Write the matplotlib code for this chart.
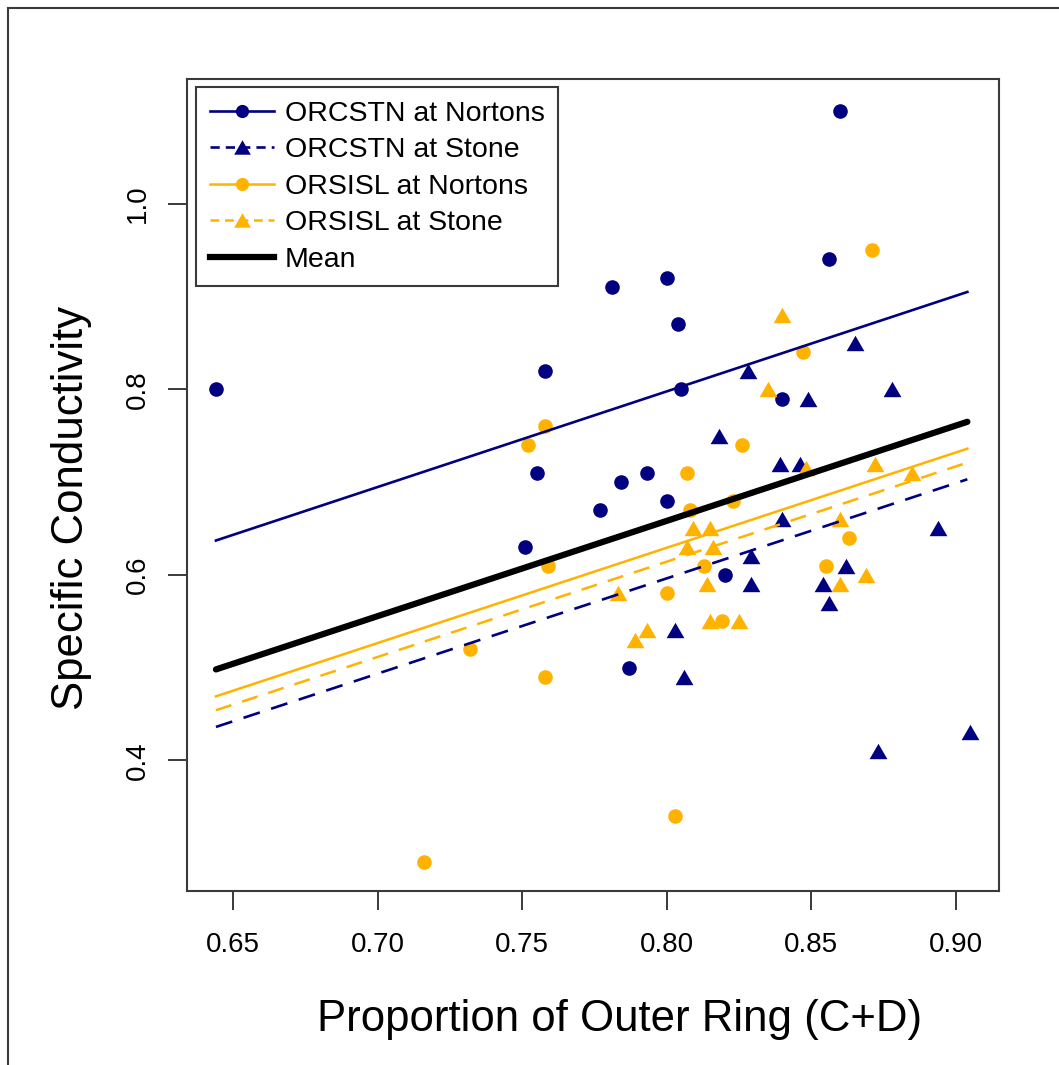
import matplotlib
matplotlib.use("Agg")
import matplotlib.pyplot as plt
from matplotlib.lines import Line2D

plt.rcParams['font.family'] = ['Liberation Sans', 'DejaVu Sans']

# colours
navy = '#000080'
gold = '#FFB300'

# ORCSTN at Nortons (circles)
orcstn_nortons_x = [0.644, 0.728, 0.751, 0.755, 0.758, 0.777, 0.781, 0.784, 0.787,
                    0.793, 0.800, 0.800, 0.804, 0.805, 0.820, 0.840, 0.856, 0.860]
orcstn_nortons_y = [0.80, 0.93, 0.63, 0.71, 0.82, 0.67, 0.91, 0.70, 0.50,
                    0.71, 0.92, 0.68, 0.87, 0.80, 0.60, 0.79, 0.94, 1.10]

# ORCSTN at Stone (triangles)
orcstn_stone_x = [0.803, 0.806, 0.818, 0.828, 0.829, 0.829, 0.839, 0.840, 0.846,
                  0.849, 0.854, 0.856, 0.862, 0.865, 0.873, 0.878, 0.894, 0.905]
orcstn_stone_y = [0.54, 0.49, 0.75, 0.82, 0.62, 0.59, 0.72, 0.66, 0.72,
                  0.79, 0.59, 0.57, 0.61, 0.85, 0.41, 0.80, 0.65, 0.43]

# ORSISL at Nortons (circles)
orsisl_nortons_x = [0.716, 0.732, 0.752, 0.758, 0.758, 0.759, 0.800, 0.803, 0.807,
                    0.808, 0.813, 0.819, 0.823, 0.826, 0.847, 0.855, 0.863, 0.871]
orsisl_nortons_y = [0.29, 0.52, 0.74, 0.76, 0.49, 0.61, 0.58, 0.34, 0.71,
                    0.67, 0.61, 0.55, 0.68, 0.74, 0.84, 0.61, 0.64, 0.95]

# ORSISL at Stone (triangles)
orsisl_stone_x = [0.783, 0.789, 0.793, 0.807, 0.809, 0.814, 0.815, 0.815, 0.816,
                  0.825, 0.835, 0.840, 0.848, 0.860, 0.860, 0.869, 0.872, 0.885]
orsisl_stone_y = [0.58, 0.53, 0.54, 0.63, 0.65, 0.59, 0.65, 0.55, 0.63,
                  0.55, 0.80, 0.88, 0.715, 0.66, 0.59, 0.60, 0.72, 0.71]

# fitted lines (values at both ends of the x range)
fit_x = [0.644, 0.904]
fit_orcstn_nortons = [0.637, 0.905]
fit_orcstn_stone = [0.436, 0.703]
fit_orsisl_nortons = [0.469, 0.736]
fit_orsisl_stone = [0.454, 0.721]
fit_mean = [0.498, 0.765]

x_ticks = [0.65, 0.70, 0.75, 0.80, 0.85, 0.90]
x_tick_labels = ['0.65', '0.70', '0.75', '0.80', '0.85', '0.90']
y_ticks = [0.4, 0.6, 0.8, 1.0]
y_tick_labels = ['0.4', '0.6', '0.8', '1.0']

legend_labels = ['ORCSTN at Nortons', 'ORCSTN at Stone', 'ORSISL at Nortons',
                 'ORSISL at Stone', 'Mean']

# equilateral triangle centred on its bounding box
tri = [(0, 1), (1.1547, -1), (-1.1547, -1), (0, 1)]

W, H = 1059, 1065
fig = plt.figure(figsize=(W / 100, H / 100), dpi=100)
ax = fig.add_axes([186.7 / W, 1 - 891 / H, 812.6 / W, 812 / H])

ms_c = 10.5
ms_t = 12.8
ax.plot(orcstn_nortons_x, orcstn_nortons_y, 'o', color=navy, ms=ms_c, mew=0, zorder=2)
ax.plot(orcstn_stone_x, orcstn_stone_y, marker=tri, ls='none', color=navy, ms=ms_t, mew=0, zorder=2)
ax.plot(orsisl_nortons_x, orsisl_nortons_y, 'o', color=gold, ms=ms_c, mew=0, zorder=2)
ax.plot(orsisl_stone_x, orsisl_stone_y, marker=tri, ls='none', color=gold, ms=ms_t, mew=0, zorder=2)

dash = (0, (6.5, 4.5))
ax.plot(fit_x, fit_orcstn_nortons, color=navy, lw=1.9, zorder=3)
ax.plot(fit_x, fit_orcstn_stone, color=navy, lw=1.9, ls=dash, zorder=3)
ax.plot(fit_x, fit_orsisl_nortons, color=gold, lw=1.8, zorder=3)
ax.plot(fit_x, fit_orsisl_stone, color=gold, lw=1.8, ls=dash, zorder=3)
ax.plot(fit_x, fit_mean, color='black', lw=4.5, solid_capstyle='round', zorder=3)

ax.set_xlim(0.63388, 0.91505)
ax.set_ylim(0.2591, 1.1346)
ax.set_xticks(x_ticks)
ax.set_xticklabels(x_tick_labels)
ax.set_yticks(y_ticks)
ax.set_yticklabels(y_tick_labels, rotation=90, va='center')

for s in ax.spines.values():
    s.set_color('#3a3a3a')
    s.set_linewidth(1.5)
ax.tick_params(axis='both', length=13.5, width=1.4, color='#3a3a3a', labelsize=20)
ax.tick_params(axis='x', pad=16)
ax.tick_params(axis='y', pad=12)

fig.text(620 / W, 1 - 1020 / H, 'Proportion of Outer Ring (C+D)', fontsize=31.5,
         ha='center', va='center')
fig.text(72 / W, 1 - 508 / H, 'Specific Conductivity', fontsize=31.5,
         ha='center', va='center', rotation=90)

ldash = (0, (3.5, 2.3))
handles = [
    Line2D([], [], color=navy, lw=1.9, marker='o', ms=9.5, mew=0),
    Line2D([], [], color=navy, lw=1.9, ls=ldash, marker=tri, ms=12, mew=0),
    Line2D([], [], color=gold, lw=1.8, marker='o', ms=9.5, mew=0),
    Line2D([], [], color=gold, lw=1.8, ls=ldash, marker=tri, ms=12, mew=0),
    Line2D([], [], color='black', lw=4.5),
]
leg = ax.legend(handles, legend_labels, loc='upper left',
                bbox_to_anchor=((196 - 186.7) / 812.6, (891 - 87) / 812),
                borderaxespad=0, fontsize=20.5, frameon=True, fancybox=False,
                framealpha=1, edgecolor='#3a3a3a', handlelength=2.25,
                handletextpad=0.38, labelspacing=0.37, borderpad=0.48)
leg.get_frame().set_linewidth(1.5)

# outer frame of the figure (top and left edges)
fig.add_artist(Line2D([8 / W, 8 / W], [0, 1 - 8 / H], transform=fig.transFigure,
                      color='#3a3a3a', lw=1.5))
fig.add_artist(Line2D([8 / W, 1], [1 - 8 / H, 1 - 8 / H], transform=fig.transFigure,
                      color='#3a3a3a', lw=1.5))

fig.savefig('out.png', dpi=100)
